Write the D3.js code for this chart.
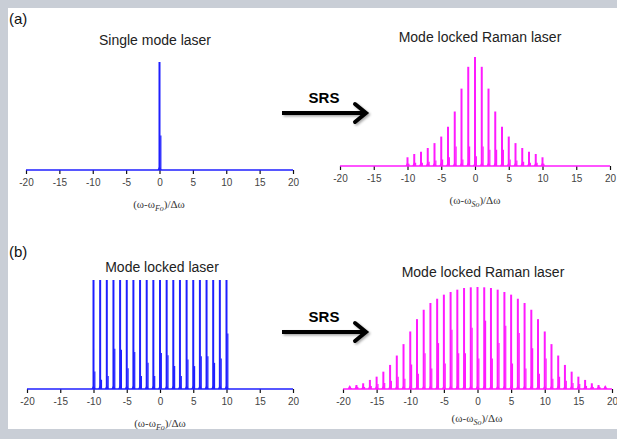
<!DOCTYPE html>
<html>
<head>
<meta charset="utf-8">
<script src="https://cdn.jsdelivr.net/npm/d3@7"></script>
<style>
  body { margin: 0; background: #c9ced6; }
  svg { display: block; }
  .tick text { font-family: Arial, "Liberation Sans", sans-serif; font-size: 10px; fill: #444; }
  .tick line { stroke: #111; stroke-width: 1.2; }
</style>
</head>
<body>
<div id="viz"></div>
<script>
// tick labels shared by all four panels
var tickValues = [-20, -15, -10, -5, 0, 5, 10, 15, 20];

// (a) single mode pump laser
var aLeftModes = [0];
var aLeftPeak = [1];
var aLeftSide = [0.32];

// (a) resulting mode locked Raman laser
var aRightModes = [-10, -9, -8, -7, -6, -5, -4, -3, -2, -1, 0, 1, 2, 3, 4, 5, 6, 7, 8, 9, 10];
var aRightPeak = [0.08, 0.11, 0.13, 0.165, 0.21, 0.27, 0.36, 0.50, 0.71, 0.91, 1.0,
                  0.91, 0.71, 0.50, 0.36, 0.27, 0.21, 0.165, 0.13, 0.11, 0.08];
var aRightSide = [0.02, 0.03, 0.03, 0.04, 0.05, 0.06, 0.08, 0.18, 0.06, 0.18, 0.09,
                  0.18, 0.15, 0.15, 0.15, 0.06, 0.05, 0.04, 0.03, 0.03, 0.02];

// (b) mode locked pump laser
var bLeftModes = [-10, -9, -8, -7, -6, -5, -4, -3, -2, -1, 0, 1, 2, 3, 4, 5, 6, 7, 8, 9, 10];
var bLeftPeak = [1, 1, 1, 1, 1, 1, 1, 1, 1, 1, 1, 1, 1, 1, 1, 1, 1, 1, 1, 1, 1];
var bLeftSide = [0.16, 0.085, 0.12, 0.37, 0.36, 0.19, 0.34, 0.12, 0.24, 0.12, 0.33,
                 0.31, 0.21, 0.12, 0.27, 0.21, 0.30, 0.30, 0.24, 0.28, 0.51];

// (b) resulting mode locked Raman laser
var bRightModes = [-19, -18, -17, -16, -15, -14, -13, -12, -11, -10, -9, -8, -7, -6, -5, -4, -3, -2, -1, 0,
                   1, 2, 3, 4, 5, 6, 7, 8, 9, 10, 11, 12, 13, 14, 15, 16, 17, 18, 19];
var bRightPeak = [0.023, 0.039, 0.056, 0.089, 0.121, 0.17, 0.236, 0.328, 0.44, 0.564, 0.685, 0.777, 0.843, 0.885, 0.925, 0.951, 0.974, 0.99, 0.997, 1.0,
                  0.997, 0.99, 0.974, 0.951, 0.925, 0.885, 0.843, 0.777, 0.685, 0.564, 0.44, 0.328, 0.236, 0.17, 0.121, 0.089, 0.056, 0.039, 0.023];
var bRightSide = [0.01, 0.02, 0.02, 0.03, 0.05, 0.06, 0.08, 0.12, 0.10, 0.24, 0.15, 0.35, 0.20, 0.45, 0.25, 0.58, 0.35, 0.35, 0.60, 0.30,
                  0.67, 0.30, 0.45, 0.62, 0.25, 0.55, 0.20, 0.40, 0.15, 0.30, 0.10, 0.12, 0.08, 0.06, 0.05, 0.03, 0.02, 0.02, 0.01];

var width = 617;
var height = 439;
var blue = "#1f1fff";
var magenta = "#ff1aff";

var svg = d3.select("#viz").append("svg")
    .attr("width", width)
    .attr("height", height);

// white panel on the grey page
svg.append("rect")
    .attr("x", 8).attr("y", 8)
    .attr("width", width - 8).attr("height", 421)
    .attr("fill", "#fff");

var defs = svg.append("defs");
var shadow = defs.append("filter").attr("id", "shadow")
    .attr("x", "-20%").attr("y", "-50%").attr("width", "140%").attr("height", "200%");
shadow.append("feDropShadow")
    .attr("dx", 1.5).attr("dy", 1.5).attr("stdDeviation", 1.2)
    .attr("flood-color", "#000").attr("flood-opacity", 0.35);

//Panel layout (pixel boxes only, values come from the arrays above)
var panels = [
    {modes: aLeftModes, peak: aLeftPeak, side: aLeftSide, color: blue, x0: 26, x1: 293, base: 170, top: 62,
     title: "Single mode laser", tx: 155, ty: 45, sub: "Fo", lx: 159, ly: 208},
    {modes: aRightModes, peak: aRightPeak, side: aRightSide, color: magenta, x0: 340, x1: 610, base: 166, top: 57,
     title: "Mode locked Raman laser", tx: 480, ty: 42, sub: "So", lx: 475, ly: 204},
    {modes: bLeftModes, peak: bLeftPeak, side: bLeftSide, color: blue, x0: 27, x1: 293, base: 389, top: 280,
     title: "Mode locked laser", tx: 162, ty: 272, sub: "Fo", lx: 160, ly: 427},
    {modes: bRightModes, peak: bRightPeak, side: bRightSide, color: magenta, x0: 343, x1: 612, base: 389, top: 287,
     title: "Mode locked Raman laser", tx: 483, ty: 277, sub: "So", lx: 477, ly: 422}
];

panels.forEach(function(p) {
    var x = d3.scaleLinear().domain([-20, 20]).range([p.x0, p.x1]);
    var y = d3.scaleLinear().domain([0, 1]).range([p.base, p.top]);
    var g = svg.append("g");

    //secondary (weaker) lines beside each mode
    g.selectAll("line.side")
        .data(p.modes)
        .enter()
        .append("line")
        .attr("class", "side")
        .attr("x1", function(d) { return x(d + 0.2); })
        .attr("x2", function(d) { return x(d + 0.2); })
        .attr("y1", y(0))
        .attr("y2", function(d, i) { return y(p.side[i]); })
        .attr("stroke", p.color)
        .attr("stroke-width", 1.2);

    //main mode lines
    g.selectAll("line.mode")
        .data(p.modes)
        .enter()
        .append("line")
        .attr("class", "mode")
        .attr("x1", function(d) { return x(d); })
        .attr("x2", function(d) { return x(d); })
        .attr("y1", y(0))
        .attr("y2", function(d, i) { return y(p.peak[i]); })
        .attr("stroke", p.color)
        .attr("stroke-width", 2);

    //small bumps at the base of each line
    g.selectAll("path.bump")
        .data(p.modes)
        .enter()
        .append("path")
        .attr("class", "bump")
        .attr("d", function(d) { return "M" + (x(d) - 2) + "," + y(0) + "L" + x(d) + "," + (y(0) - 4) + "L" + (x(d) + 2) + "," + y(0) + "Z"; })
        .attr("fill", p.color);

    //axis, labels written with a plain hyphen as in the original
    var axis = g.append("g")
        .attr("transform", "translate(0," + p.base + ")")
        .call(d3.axisBottom(x).tickValues(tickValues).tickSize(4).tickPadding(5)
            .tickFormat(function(d) { return String(d); }));
    axis.select(".domain").remove();
    g.append("line")
        .attr("x1", x(-20)).attr("x2", x(20))
        .attr("y1", p.base).attr("y2", p.base)
        .attr("stroke", p.color)
        .attr("stroke-width", 1.6);

    //title
    svg.append("text")
        .attr("x", p.tx).attr("y", p.ty)
        .attr("text-anchor", "middle")
        .style("font-family", "Arial, 'Liberation Sans', sans-serif")
        .style("font-size", "14px")
        .attr("fill", "#222")
        .text(p.title);

    //axis label (ω-ω_Fo)/Δω
    var lab = svg.append("text")
        .attr("x", p.lx).attr("y", p.ly)
        .attr("text-anchor", "middle")
        .style("font-family", "'Liberation Serif', 'Times New Roman', serif")
        .style("font-size", "11px")
        .attr("fill", "#333");
    lab.append("tspan").text("(\u03c9-\u03c9");
    lab.append("tspan").attr("dy", 3).style("font-size", "8px").style("font-style", "italic").text(p.sub);
    lab.append("tspan").attr("dy", -3).text(")/\u0394\u03c9");
});

// panel letters
[{t: "(a)", y: 24}, {t: "(b)", y: 257}].forEach(function(d) {
    svg.append("text")
        .attr("x", 9).attr("y", d.y)
        .style("font-family", "Arial, 'Liberation Sans', sans-serif")
        .style("font-size", "15px")
        .attr("fill", "#111")
        .text(d.t);
});

// SRS arrows
[113, 332].forEach(function(ay) {
    var a = svg.append("g").attr("filter", "url(#shadow)");
    a.append("line")
        .attr("x1", 282).attr("x2", 365)
        .attr("y1", ay).attr("y2", ay)
        .attr("stroke", "#000").attr("stroke-width", 4);
    a.append("path")
        .attr("d", "M355," + (ay - 9) + "L366," + ay + "L355," + (ay + 9))
        .attr("fill", "none")
        .attr("stroke", "#000")
        .attr("stroke-width", 4)
        .attr("stroke-linecap", "round");
    svg.append("text")
        .attr("x", 324).attr("y", ay - 10)
        .attr("text-anchor", "middle")
        .style("font-family", "Arial, 'Liberation Sans', sans-serif")
        .style("font-size", "15px")
        .style("font-weight", "bold")
        .attr("fill", "#000")
        .text("SRS");
});
</script>
</body>
</html>
